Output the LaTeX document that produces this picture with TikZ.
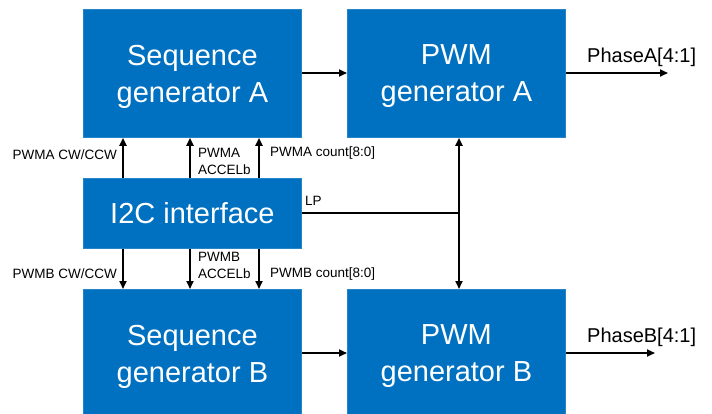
\documentclass[tikz,border=0pt]{standalone}
\usepackage{fontspec}
\setmainfont{Liberation Sans}
\usetikzlibrary{arrows.meta}
\definecolor{boxblue}{HTML}{0070C0}
\begin{document}
\begin{tikzpicture}[x=1pt,y=-1pt,
  blk/.style={fill=boxblue,draw=boxblue!85!white,line width=0.8pt,text=white,font=\fontsize{29}{37}\selectfont,align=center,anchor=north west,inner sep=0pt},
  sig/.style={line width=1.8pt,-{Triangle[length=8pt,width=7pt]}},
  lbl/.style={font=\fontsize{13.5}{16}\selectfont,inner sep=0pt},
  big/.style={font=\fontsize{20}{24}\selectfont,inner sep=0pt}]
\useasboundingbox (0,0) rectangle (712,413);
\begin{scope}
\clip (0,0) rectangle (712,413);
\node[blk,text depth=0pt,minimum width=218pt,minimum height=128pt] (sa) at (83,9) {Sequence\\generator A};
\node[blk,text depth=0pt,minimum width=218pt,minimum height=128pt] (pa) at (347,9) {PWM\\generator A};
\node[blk,minimum width=218pt,minimum height=70pt] (i2c) at (83,178) {I2C interface};
\node[blk,text depth=0pt,minimum width=218pt,minimum height=128pt] (sb) at (83,289) {Sequence\\generator B};
\node[blk,text depth=0pt,minimum width=218pt,minimum height=128pt] (pb) at (347,289) {PWM\\generator B};
\end{scope}
% seq -> pwm
\draw[sig] (sa.east |- 0,73) -- (pa.west |- 0,73);
\draw[sig] (sb.east |- 0,353) -- (pb.west |- 0,353);
% outputs
\coordinate (oa) at (668,73);
\coordinate (ob) at (655,353);
\draw[sig] (pa.east |- 0,73) -- (oa);
\draw[sig] (pb.east |- 0,353) -- (ob);
\node[big,anchor=base west] (la) at (587,62) {PhaseA[4:1]};
\node[big,anchor=base west] (lb) at (587,342) {PhaseB[4:1]};
% i2c up/down
\foreach \x/\n in {123/1,190/2,259/3}{
  \draw[sig] (i2c.north west -| \x,0) -- (sa.south west -| \x,0);
  \draw[sig] (i2c.south west -| \x,0) -- (\x,289);
}
\node[lbl,anchor=east] (l1) at (117,155) {PWMA CW/CCW};
\node[lbl,anchor=west,align=left,font=\fontsize{13.5}{17}\selectfont] (l2) at (198,161) {PWMA\\ACCELb};
\node[lbl,anchor=west] (l3) at (270,153) {PWMA count[8:0]};
\node[lbl,anchor=east] (l4) at (117,274) {PWMB CW/CCW};
\node[lbl,anchor=west,align=left,font=\fontsize{13.5}{17}\selectfont] (l5) at (198,265) {PWMB\\ACCELb};
\node[lbl,anchor=west] (l6) at (270,274) {PWMB count[8:0]};
% LP
\coordinate (j) at (459,213);
\draw[line width=1.8pt] (i2c.east |- j) -- (j);
\draw[line width=1.8pt,{Triangle[length=8pt,width=7pt]}-{Triangle[length=8pt,width=7pt]}] (pa.south -| j) -- (pb.north -| j);
\node[lbl,anchor=west] (lp) at (305,201) {LP};
\end{tikzpicture}
\end{document}
